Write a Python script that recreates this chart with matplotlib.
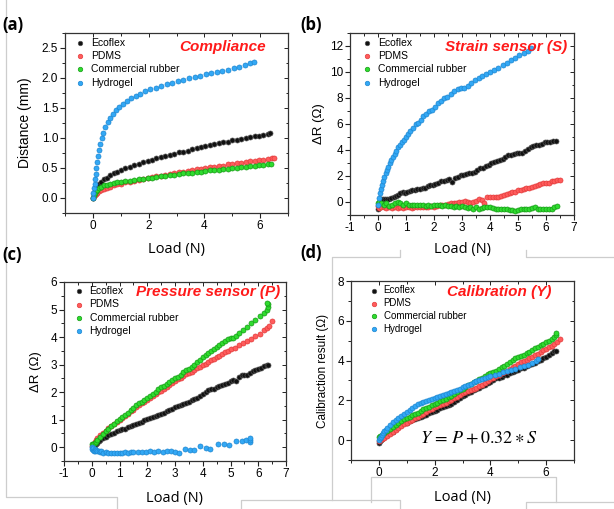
import matplotlib
matplotlib.use("Agg")
import matplotlib.pyplot as plt
from matplotlib.lines import Line2D
from matplotlib.ticker import AutoMinorLocator, MultipleLocator, FormatStrFormatter


# ---------------------------------------------------------------------------
# (a) compliance: distance (mm) vs load (N)

comp_eco_x = [0, 0.03, 0.06, 0.10, 0.15, 0.22, 0.30, 0.40, 0.50, 0.62, 0.75, 0.88, 1.02, 1.17,
              1.32, 1.48, 1.64, 1.80, 1.96, 2.12, 2.28, 2.44, 2.60, 2.76, 2.92, 3.08, 3.24, 3.40,
              3.56, 3.72, 3.88, 4.04, 4.20, 4.36, 4.52, 4.68, 4.84, 5.00, 5.16, 5.32, 5.48, 5.64,
              5.80, 5.96, 6.12, 6.28, 6.35]
comp_eco_y = [0.00, 0.07, 0.11, 0.15, 0.19, 0.23, 0.27, 0.31, 0.34, 0.38, 0.41, 0.44, 0.47, 0.50,
              0.52, 0.55, 0.57, 0.60, 0.62, 0.64, 0.66, 0.68, 0.70, 0.72, 0.74, 0.76, 0.77, 0.79,
              0.81, 0.83, 0.85, 0.87, 0.88, 0.90, 0.91, 0.93, 0.94, 0.96, 0.97, 0.99, 1.00, 1.01,
              1.03, 1.04, 1.05, 1.07, 1.08]

comp_pdms_x = [0, 0.03, 0.06, 0.10, 0.15, 0.22, 0.30, 0.40, 0.50, 0.62, 0.75, 0.88, 1.02, 1.17,
               1.32, 1.48, 1.64, 1.80, 1.96, 2.12, 2.28, 2.44, 2.60, 2.76, 2.92, 3.08, 3.24, 3.40,
               3.56, 3.72, 3.88, 4.04, 4.20, 4.36, 4.52, 4.68, 4.84, 5.00, 5.16, 5.32, 5.48, 5.64,
               5.80, 5.96, 6.12, 6.28, 6.44, 6.50]
comp_pdms_y = [0.00, 0.03, 0.05, 0.07, 0.09, 0.11, 0.13, 0.15, 0.17, 0.19, 0.21, 0.23, 0.24, 0.26,
               0.27, 0.29, 0.30, 0.32, 0.33, 0.35, 0.36, 0.37, 0.39, 0.40, 0.41, 0.43, 0.44, 0.45,
               0.47, 0.48, 0.49, 0.50, 0.51, 0.52, 0.53, 0.54, 0.56, 0.57, 0.58, 0.59, 0.60, 0.61,
               0.62, 0.63, 0.64, 0.65, 0.66, 0.67]

comp_rub_x = [0, 0.03, 0.06, 0.10, 0.15, 0.22, 0.30, 0.40, 0.50, 0.62, 0.75, 0.88, 1.02, 1.17,
              1.32, 1.48, 1.64, 1.80, 1.96, 2.12, 2.28, 2.44, 2.60, 2.76, 2.92, 3.08, 3.24, 3.40,
              3.56, 3.72, 3.88, 4.04, 4.20, 4.36, 4.52, 4.68, 4.84, 5.00, 5.16, 5.32, 5.48, 5.64,
              5.80, 5.96, 6.12, 6.28, 6.40]
comp_rub_y = [0.00, 0.05, 0.08, 0.11, 0.14, 0.17, 0.19, 0.21, 0.22, 0.23, 0.25, 0.26, 0.27, 0.28,
              0.29, 0.30, 0.31, 0.32, 0.33, 0.34, 0.35, 0.36, 0.37, 0.38, 0.39, 0.40, 0.41, 0.42,
              0.42, 0.43, 0.44, 0.45, 0.46, 0.46, 0.47, 0.48, 0.49, 0.50, 0.50, 0.51, 0.52, 0.53,
              0.54, 0.55, 0.55, 0.56, 0.56]

comp_gel_x = [0.00, 0.02, 0.04, 0.06, 0.08, 0.10, 0.13, 0.16, 0.19, 0.23, 0.27, 0.32, 0.38, 0.45,
              0.53, 0.62, 0.72, 0.83, 0.95, 1.08, 1.22, 1.37, 1.53, 1.70, 1.88, 2.06, 2.25, 2.45,
              2.65, 2.85, 3.05, 3.25, 3.45, 3.65, 3.85, 4.05, 4.25, 4.45, 4.65, 4.85, 5.05, 5.25,
              5.45, 5.65, 5.77]
comp_gel_y = [0.00, 0.08, 0.16, 0.24, 0.32, 0.40, 0.50, 0.60, 0.70, 0.80, 0.90, 1.00, 1.09, 1.18,
              1.26, 1.33, 1.40, 1.46, 1.52, 1.57, 1.62, 1.66, 1.70, 1.74, 1.78, 1.81, 1.84, 1.87,
              1.90, 1.92, 1.95, 1.97, 2.00, 2.02, 2.04, 2.06, 2.08, 2.10, 2.12, 2.14, 2.16, 2.19,
              2.22, 2.25, 2.27]

# ---------------------------------------------------------------------------
# (b) strain sensor: dR (ohm) vs load (N)

strain_eco_x = [0.00, 0.03, 0.07, 0.12, 0.18, 0.25, 0.32, 0.40, 0.48, 0.56, 0.64, 0.72, 0.80, 0.88,
                0.96, 1.05, 1.14, 1.23, 1.32, 1.41, 1.50, 1.59, 1.68, 1.77, 1.86, 1.95, 2.05, 2.15,
                2.25, 2.35, 2.45, 2.55, 2.65, 2.75, 2.85, 2.95, 3.05, 3.15, 3.25, 3.35, 3.45, 3.55,
                3.65, 3.75, 3.85, 3.95, 4.05, 4.15, 4.25, 4.35, 4.45, 4.55, 4.65, 4.75, 4.85, 4.95,
                5.05, 5.15, 5.25, 5.35, 5.45, 5.55, 5.65, 5.75, 5.85, 5.95, 6.05, 6.15, 6.25, 6.35]
strain_eco_y = [-0.55, -0.10, 0.10, 0.20, 0.20, 0.25, 0.20, 0.25, 0.30, 0.40, 0.50, 0.55, 0.70, 0.75,
                0.70, 0.80, 0.85, 0.90, 0.90, 1.00, 1.00, 1.05, 1.10, 1.20, 1.30, 1.30, 1.35, 1.50,
                1.60, 1.65, 1.70, 1.80, 1.55, 1.85, 1.90, 2.10, 2.05, 2.15, 2.20, 2.20, 2.30, 2.45,
                2.60, 2.65, 2.75, 2.85, 3.00, 3.05, 3.15, 3.20, 3.30, 3.45, 3.60, 3.65, 3.70, 3.75,
                3.75, 3.80, 3.90, 4.10, 4.20, 4.30, 4.35, 4.40, 4.50, 4.60, 4.65, 4.65, 4.70, 4.70]

strain_pdms_x = [0.00, 0.05, 0.12, 0.20, 0.30, 0.40, 0.50, 0.60, 0.70, 0.80, 0.90, 1.00, 1.10, 1.20,
                 1.30, 1.40, 1.50, 1.60, 1.70, 1.80, 1.90, 2.00, 2.10, 2.20, 2.30, 2.40, 2.50, 2.60,
                 2.70, 2.80, 2.90, 3.00, 3.10, 3.20, 3.30, 3.40, 3.50, 3.60, 3.70, 3.80, 3.90, 4.00,
                 4.10, 4.20, 4.30, 4.40, 4.50, 4.60, 4.70, 4.80, 4.90, 5.00, 5.10, 5.20, 5.30, 5.40,
                 5.50, 5.60, 5.70, 5.80, 5.90, 6.00, 6.10, 6.20, 6.30, 6.40, 6.50]
strain_pdms_y = [-0.30, -0.45, -0.40, -0.40, -0.45, -0.40, -0.45, -0.40, -0.45, -0.40, -0.45, -0.40,
                 -0.40, -0.45, -0.40, -0.40, -0.35, -0.40, -0.40, -0.35, -0.30, -0.35, -0.30, -0.25,
                 -0.20, -0.20, -0.15, -0.10, -0.10, -0.05, 0.00, 0.00, 0.05, 0.00, -0.10, 0.00,
                 0.05, 0.20, 0.15, -0.05, 0.35, 0.40, 0.40, 0.35, 0.40, 0.50, 0.55, 0.60, 0.70,
                 0.75, 0.80, 0.90, 0.95, 1.00, 1.05, 1.10, 1.15, 1.20, 1.30, 1.40, 1.45, 1.50,
                 1.50, 1.60, 1.65, 1.70, 1.70]

strain_rub_x = [0.00, 0.05, 0.10, 0.20, 0.30, 0.40, 0.50, 0.60, 0.70, 0.80, 0.90, 1.00, 1.10, 1.20,
                1.30, 1.40, 1.50, 1.60, 1.70, 1.80, 1.90, 2.00, 2.10, 2.20, 2.30, 2.40, 2.50, 2.60,
                2.70, 2.80, 2.90, 3.00, 3.10, 3.20, 3.30, 3.40, 3.50, 3.60, 3.70, 3.80, 3.90, 4.00,
                4.10, 4.20, 4.30, 4.40, 4.50, 4.60, 4.70, 4.80, 4.90, 5.00, 5.10, 5.20, 5.30, 5.40,
                5.50, 5.60, 5.70, 5.80, 5.90, 6.00, 6.10, 6.20, 6.30, 6.40]
strain_rub_y = [-0.10, 0.00, -0.10, -0.20, -0.10, -0.30, -0.20, -0.10, 0.00, -0.10, -0.20, -0.10,
                -0.20, -0.20, -0.20, -0.20, -0.20, -0.25, -0.30, -0.20, -0.30, -0.20, -0.25, -0.20,
                -0.30, -0.20, -0.30, -0.30, -0.35, -0.30, -0.40, -0.30, -0.35, -0.45, -0.40, -0.50,
                -0.40, -0.50, -0.45, -0.40, -0.35, -0.40, -0.45, -0.50, -0.50, -0.55, -0.55, -0.55,
                -0.60, -0.65, -0.70, -0.60, -0.55, -0.55, -0.55, -0.50, -0.45, -0.35, -0.50, -0.55,
                -0.55, -0.55, -0.55, -0.50, -0.35, -0.30]

strain_gel_x = [0.00, 0.03, 0.06, 0.10, 0.14, 0.18, 0.22, 0.27, 0.32, 0.37, 0.42, 0.48, 0.54, 0.60,
                0.66, 0.72, 0.78, 0.85, 0.92, 1.00, 1.08, 1.16, 1.25, 1.34, 1.43, 1.52, 1.62, 1.72,
                1.82, 1.92, 2.03, 2.14, 2.25, 2.36, 2.48, 2.60, 2.72, 2.84, 2.96, 3.08, 3.20, 3.33,
                3.46, 3.59, 3.72, 3.86, 4.00, 4.15, 4.30, 4.45, 4.60, 4.75, 4.90, 5.05, 5.20, 5.35,
                5.45]
strain_gel_y = [-0.20, 0.30, 0.70, 1.00, 1.30, 1.60, 1.90, 2.20, 2.50, 2.70, 3.00, 3.20, 3.50, 3.70,
                3.90, 4.20, 4.40, 4.60, 4.80, 5.00, 5.20, 5.50, 5.70, 6.00, 6.10, 6.30, 6.60, 6.80,
                7.00, 7.10, 7.30, 7.60, 7.80, 8.00, 8.10, 8.30, 8.50, 8.70, 8.75, 8.80, 8.95, 9.15,
                9.35, 9.50, 9.70, 9.85, 10.00, 10.15, 10.30, 10.50, 10.70, 10.90, 11.05, 11.30,
                11.45, 11.65, 11.85]

# ---------------------------------------------------------------------------
# (c) pressure sensor: dR (ohm) vs load (N)

press_eco_x = [0.05, 0.10, 0.15, 0.20, 0.25, 0.30, 0.40, 0.50, 0.60, 0.70, 0.80, 0.90, 1.00, 1.10,
               1.20, 1.30, 1.40, 1.50, 1.60, 1.70, 1.80, 1.90, 2.00, 2.10, 2.20, 2.30, 2.40, 2.50,
               2.60, 2.70, 2.80, 2.90, 3.00, 3.10, 3.20, 3.30, 3.40, 3.50, 3.60, 3.70, 3.80, 3.90,
               4.00, 4.10, 4.20, 4.30, 4.40, 4.50, 4.60, 4.70, 4.80, 4.90, 5.00, 5.10, 5.20, 5.30,
               5.40, 5.50, 5.60, 5.70, 5.80, 5.90, 6.00, 6.10, 6.20, 6.30, 6.36]
press_eco_y = [0.02, 0.08, 0.12, 0.17, 0.22, 0.26, 0.32, 0.38, 0.44, 0.48, 0.53, 0.58, 0.62, 0.66,
               0.68, 0.72, 0.76, 0.79, 0.84, 0.88, 0.92, 0.98, 1.02, 1.05, 1.08, 1.12, 1.16, 1.20,
               1.24, 1.30, 1.35, 1.40, 1.46, 1.50, 1.53, 1.57, 1.61, 1.65, 1.70, 1.75, 1.80, 1.86,
               1.92, 2.00, 2.08, 2.10, 2.12, 2.18, 2.22, 2.25, 2.30, 2.35, 2.42, 2.45, 2.42, 2.55,
               2.62, 2.62, 2.62, 2.70, 2.78, 2.80, 2.84, 2.88, 2.94, 2.98, 2.98]

press_pdms_x = [0.00, 0.05, 0.10, 0.15, 0.20, 0.30, 0.40, 0.50, 0.60, 0.70, 0.80, 0.90, 1.00, 1.10,
                1.20, 1.30, 1.40, 1.50, 1.60, 1.70, 1.80, 1.90, 2.00, 2.10, 2.20, 2.30, 2.40, 2.50,
                2.60, 2.70, 2.80, 2.90, 3.00, 3.10, 3.20, 3.30, 3.40, 3.50, 3.60, 3.70, 3.80, 3.90,
                4.00, 4.10, 4.20, 4.30, 4.40, 4.50, 4.60, 4.70, 4.80, 4.90, 5.00, 5.15, 5.30, 5.45,
                5.60, 5.75, 5.90, 6.05, 6.20, 6.30, 6.40, 6.50]
press_pdms_y = [0.05, 0.12, 0.20, 0.27, 0.33, 0.43, 0.52, 0.60, 0.69, 0.77, 0.85, 0.92, 1.00, 1.07,
                1.15, 1.22, 1.30, 1.37, 1.45, 1.52, 1.60, 1.66, 1.73, 1.80, 1.87, 1.94, 2.00, 2.06,
                2.12, 2.20, 2.27, 2.34, 2.40, 2.46, 2.52, 2.58, 2.65, 2.70, 2.75, 2.82, 2.88, 2.93,
                2.98, 3.03, 3.10, 3.16, 3.20, 3.27, 3.33, 3.40, 3.45, 3.50, 3.55, 3.62, 3.70, 3.78,
                3.86, 3.94, 4.03, 4.12, 4.25, 4.33, 4.42, 4.58]

press_rub_x = [0.00, 0.05, 0.10, 0.15, 0.20, 0.30, 0.40, 0.50, 0.60, 0.70, 0.80, 0.90, 1.00, 1.10,
               1.20, 1.30, 1.40, 1.50, 1.60, 1.70, 1.80, 1.90, 2.00, 2.10, 2.20, 2.30, 2.40, 2.50,
               2.60, 2.70, 2.80, 2.90, 3.00, 3.10, 3.20, 3.30, 3.40, 3.50, 3.60, 3.70, 3.80, 3.90,
               4.00, 4.10, 4.20, 4.30, 4.40, 4.50, 4.60, 4.70, 4.80, 4.90, 5.00, 5.10, 5.20, 5.30,
               5.45, 5.60, 5.75, 5.90, 6.05, 6.20, 6.30, 6.35, 6.35, 6.32]
press_rub_y = [0.10, 0.12, 0.15, 0.20, 0.28, 0.38, 0.48, 0.58, 0.68, 0.76, 0.86, 0.95, 1.03, 1.10,
               1.18, 1.26, 1.35, 1.43, 1.52, 1.60, 1.66, 1.73, 1.80, 1.87, 1.94, 2.02, 2.10, 2.17,
               2.23, 2.30, 2.37, 2.45, 2.52, 2.55, 2.62, 2.72, 2.80, 2.85, 2.92, 3.00, 3.10, 3.18,
               3.28, 3.35, 3.43, 3.50, 3.57, 3.63, 3.70, 3.77, 3.85, 3.93, 3.98, 3.95, 4.05, 4.15,
               4.25, 4.38, 4.50, 4.62, 4.75, 4.88, 5.00, 5.10, 5.20, 5.25]

press_gel_x = [0.00, 0.02, 0.04, 0.06, 0.08, 0.10, 0.13, 0.16, 0.20, 0.25, 0.30, 0.35, 0.40, 0.50,
               0.60, 0.70, 0.80, 0.90, 1.00, 1.10, 1.20, 1.30, 1.40, 1.50, 1.65, 1.80, 1.95, 2.10,
               2.25, 2.40, 2.55, 2.70, 2.85, 3.00, 3.15, 3.35, 3.55, 3.70, 3.90, 4.10, 4.25, 4.55,
               4.75, 4.95, 5.20, 5.40, 5.55, 5.70, 5.72, 5.72]
press_gel_y = [0.00, -0.05, -0.10, -0.02, -0.12, -0.08, -0.15, -0.10, -0.15, -0.12, -0.18, -0.15,
               -0.20, -0.18, -0.22, -0.20, -0.22, -0.20, -0.20, -0.22, -0.18, -0.20, -0.18, -0.16,
               -0.18, -0.16, -0.18, -0.15, -0.17, -0.15, -0.16, -0.12, -0.15, -0.18, -0.21, -0.07,
               -0.09, -0.10, 0.03, -0.04, -0.06, 0.12, 0.10, 0.09, 0.24, 0.24, 0.27, 0.20, 0.28,
               0.35]

# ---------------------------------------------------------------------------
# (d) calibration: Y = P + 0.32 * S

cal_eco_x = [0.00, 0.03, 0.06, 0.10, 0.15, 0.20, 0.25, 0.30, 0.40, 0.50, 0.60, 0.70, 0.80, 0.90,
             1.00, 1.10, 1.20, 1.30, 1.40, 1.50, 1.60, 1.70, 1.80, 1.90, 2.00, 2.10, 2.20, 2.30,
             2.40, 2.50, 2.60, 2.70, 2.80, 2.90, 3.00, 3.10, 3.20, 3.30, 3.40, 3.50, 3.60, 3.70,
             3.80, 3.90, 4.00, 4.10, 4.20, 4.30, 4.40, 4.50, 4.60, 4.70, 4.80, 4.90, 5.00, 5.10,
             5.20, 5.30, 5.40, 5.50, 5.60, 5.70, 5.80, 5.90, 6.00, 6.10, 6.20, 6.30, 6.35]
cal_eco_y = [-0.13, -0.05, 0.02, 0.08, 0.13, 0.18, 0.22, 0.27, 0.35, 0.43, 0.55, 0.65, 0.78, 0.84,
             0.87, 0.95, 1.00, 1.05, 1.10, 1.15, 1.22, 1.28, 1.38, 1.42, 1.45, 1.52, 1.60, 1.65,
             1.70, 1.78, 1.80, 1.90, 2.00, 2.10, 2.20, 2.27, 2.35, 2.42, 2.50, 2.55, 2.62, 2.70,
             2.78, 2.86, 2.92, 3.00, 3.10, 3.12, 3.18, 3.25, 3.28, 3.35, 3.42, 3.50, 3.55, 3.62,
             3.65, 3.72, 3.80, 3.85, 3.90, 3.97, 4.05, 4.15, 4.20, 4.30, 4.40, 4.47, 4.49]

cal_pdms_x = [0.00, 0.05, 0.10, 0.20, 0.30, 0.40, 0.50, 0.60, 0.70, 0.80, 0.90, 1.00, 1.10, 1.20,
              1.30, 1.40, 1.50, 1.60, 1.70, 1.80, 1.90, 2.00, 2.10, 2.20, 2.30, 2.40, 2.50, 2.60,
              2.70, 2.80, 2.90, 3.00, 3.10, 3.20, 3.30, 3.40, 3.50, 3.60, 3.70, 3.80, 3.90, 4.00,
              4.10, 4.20, 4.30, 4.40, 4.50, 4.60, 4.70, 4.80, 4.90, 5.00, 5.10, 5.20, 5.30, 5.40,
              5.50, 5.60, 5.70, 5.80, 5.90, 6.00, 6.10, 6.20, 6.30, 6.40, 6.50]
cal_pdms_y = [-0.05, 0.00, 0.05, 0.12, 0.22, 0.32, 0.42, 0.52, 0.62, 0.72, 0.80, 0.88, 0.96, 1.03,
              1.10, 1.17, 1.24, 1.32, 1.40, 1.50, 1.58, 1.65, 1.72, 1.78, 1.82, 1.88, 1.95, 2.02,
              2.10, 2.18, 2.28, 2.35, 2.42, 2.48, 2.52, 2.58, 2.62, 2.70, 2.78, 2.85, 2.95, 3.05,
              3.12, 3.20, 3.28, 3.35, 3.42, 3.50, 3.58, 3.66, 3.75, 3.85, 3.92, 3.98, 4.05, 4.12,
              4.20, 4.28, 4.35, 4.45, 4.52, 4.60, 4.68, 4.75, 4.85, 4.95, 5.08]

cal_rub_x = [0.00, 0.05, 0.10, 0.20, 0.30, 0.40, 0.50, 0.60, 0.70, 0.80, 0.90, 1.00, 1.10, 1.20,
             1.30, 1.40, 1.50, 1.60, 1.70, 1.80, 1.90, 2.00, 2.10, 2.20, 2.30, 2.40, 2.50, 2.60,
             2.70, 2.80, 2.90, 3.00, 3.10, 3.20, 3.30, 3.40, 3.50, 3.60, 3.70, 3.80, 3.90, 4.00,
             4.10, 4.20, 4.30, 4.40, 4.50, 4.60, 4.70, 4.80, 4.90, 5.00, 5.10, 5.20, 5.30, 5.40,
             5.50, 5.60, 5.70, 5.80, 5.90, 6.00, 6.10, 6.20, 6.30, 6.35, 6.35]
cal_rub_y = [0.15, 0.20, 0.25, 0.35, 0.45, 0.55, 0.65, 0.75, 0.85, 0.95, 1.05, 1.12, 1.18, 1.25,
             1.32, 1.38, 1.45, 1.55, 1.62, 1.68, 1.75, 1.82, 1.88, 1.95, 2.02, 2.08, 2.15, 2.22,
             2.32, 2.42, 2.50, 2.58, 2.65, 2.75, 2.82, 2.90, 2.98, 3.05, 3.12, 3.22, 3.30, 3.35,
             3.42, 3.50, 3.60, 3.68, 3.75, 3.85, 3.95, 4.05, 4.12, 4.18, 4.22, 4.30, 4.38, 4.45,
             4.55, 4.62, 4.70, 4.78, 4.85, 4.92, 5.00, 5.08, 5.18, 5.30, 5.38]

cal_gel_x = [0.00, 0.03, 0.06, 0.10, 0.15, 0.20, 0.25, 0.30, 0.40, 0.50, 0.60, 0.70, 0.80, 0.90,
             1.00, 1.10, 1.20, 1.30, 1.40, 1.50, 1.60, 1.70, 1.80, 1.90, 2.00, 2.10, 2.20, 2.30,
             2.40, 2.50, 2.60, 2.70, 2.80, 2.90, 3.00, 3.10, 3.20, 3.30, 3.40, 3.50, 3.60, 3.70,
             3.80, 3.90, 4.00, 4.15, 4.30, 4.45, 4.60, 4.75, 4.90, 5.05, 5.20, 5.35, 5.50, 5.65,
             5.70]
cal_gel_y = [0.00, 0.10, 0.18, 0.28, 0.38, 0.46, 0.52, 0.60, 0.76, 0.90, 1.02, 1.12, 1.22, 1.32,
             1.42, 1.52, 1.62, 1.72, 1.80, 1.86, 1.92, 1.96, 2.00, 2.05, 2.10, 2.15, 2.20, 2.26,
             2.32, 2.36, 2.42, 2.46, 2.52, 2.58, 2.65, 2.70, 2.75, 2.82, 2.90, 2.96, 3.04, 3.08,
             3.12, 3.18, 3.22, 3.28, 3.34, 3.42, 3.46, 3.52, 3.60, 3.66, 3.74, 3.80, 3.88, 3.98,
             4.08]

materials = ['Ecoflex', 'PDMS', 'Commercial rubber', 'Hydrogel']
face_colors = ['#111111', '#ff5c5c', '#2fdc2f', '#33a8f5']
edge_colors = ['#505050', '#e23a3a', '#159a15', '#1d86d0']


W, H = 614, 509
plt.rcParams['font.family'] = ['Liberation Sans', 'DejaVu Sans']
plt.rcParams['axes.unicode_minus'] = False
fig = plt.figure(figsize=(W / 100, H / 100), dpi=100)


def px_axes(left, top, right, bottom):
    return fig.add_axes([left / W, 1 - bottom / H, (right - left) / W, (bottom - top) / H])


def gray_line(xs, ys):
    fig.add_artist(Line2D([x / W for x in xs], [1 - y / H for y in ys],
                          transform=fig.transFigure, color='#cdcdcd', lw=0.9))


def style_axes(ax, xmaj, ymaj):
    ax.xaxis.set_major_locator(MultipleLocator(xmaj))
    ax.yaxis.set_major_locator(MultipleLocator(ymaj))
    ax.xaxis.set_minor_locator(AutoMinorLocator(2))
    ax.yaxis.set_minor_locator(AutoMinorLocator(2))
    ax.tick_params(which='major', direction='out', length=3.5, width=0.8, labelsize=8.5,
                   pad=1.5, color='#222222')
    ax.tick_params(which='minor', direction='out', length=2, width=0.7, color='#222222')
    for s in ax.spines.values():
        s.set_linewidth(0.9)
        s.set_color('#333333')
    # mirrored inward ticks on the top and right edges
    top = ax.secondary_xaxis('top')
    top.xaxis.set_major_locator(MultipleLocator(xmaj))
    top.xaxis.set_minor_locator(AutoMinorLocator(2))
    top.tick_params(which='both', direction='in', labeltop=False, width=0.7, color='#222222')
    top.tick_params(which='major', length=3)
    top.tick_params(which='minor', length=1.8)
    right = ax.secondary_yaxis('right')
    right.yaxis.set_major_locator(MultipleLocator(ymaj))
    right.yaxis.set_minor_locator(AutoMinorLocator(2))
    right.tick_params(which='both', direction='in', labelright=False, width=0.7, color='#222222')
    right.tick_params(which='major', length=3)
    right.tick_params(which='minor', length=1.8)
    for s in list(top.spines.values()) + list(right.spines.values()):
        s.set_visible(False)


def draw_series(ax, series, size=13):
    handles = []
    for (x, y), fc, ec, name in zip(series, face_colors, edge_colors, materials):
        h = ax.scatter(x, y, s=size, c=fc, edgecolors=ec, linewidths=0.5, label=name, zorder=3)
        handles.append(h)
    return handles


def add_legend(ax, handles, bx, by, fs=7.5, spacing=0.32):
    ax.legend(handles=handles, loc='upper left', bbox_to_anchor=(bx, by), frameon=False,
              fontsize=fs, handletextpad=0.5, labelspacing=spacing, borderpad=0,
              borderaxespad=0, handlelength=1.0, scatterpoints=1, markerscale=0.9)


def add_title(ax, text, x, y, size=11):
    ax.text(x, y, text, transform=ax.transAxes, ha='right', va='center', color='#ff1a1a',
            fontsize=size, fontweight='bold', fontstyle='italic')


def add_xlabel(ax, y):
    ax.set_xlabel('Load (N)', fontsize=10.5, family=['Open Sans', 'DejaVu Sans'])
    ax.xaxis.set_label_coords(0.5, y)


# light frame lines of the composed figure
gray_line([6, 6, 117, 117], [0, 497, 497, 509])
gray_line([241, 241, 400, 400], [509, 500, 500, 509])
gray_line([332, 332, 400, 400], [500, 257, 257, 250])
gray_line([526, 526, 614], [250, 257, 257])
gray_line([371, 371, 556, 556], [502, 477, 477, 502])
gray_line([526, 526, 614], [509, 502, 502])

# ---- (a)
ax = px_axes(65, 33, 288, 213)
hs = draw_series(ax, [(comp_eco_x, comp_eco_y), (comp_pdms_x, comp_pdms_y),
                      (comp_rub_x, comp_rub_y), (comp_gel_x, comp_gel_y)])
ax.set_xlim(-1, 7)
ax.set_ylim(-0.25, 2.75)
style_axes(ax, 2, 0.5)
ax.yaxis.set_major_formatter(FormatStrFormatter('%.1f'))
ax.set_ylabel('Distance (mm)', fontsize=10)
ax.yaxis.set_label_coords(-0.15, 0.5)
add_xlabel(ax, -0.16)
add_legend(ax, hs, 0.045, 0.975)
add_title(ax, 'Compliance', 0.9, 0.922)

# ---- (b)
ax = px_axes(350, 33, 574, 215)
hs = draw_series(ax, [(strain_eco_x, strain_eco_y), (strain_pdms_x, strain_pdms_y),
                      (strain_rub_x, strain_rub_y), (strain_gel_x, strain_gel_y)])
ax.set_xlim(-1, 7)
ax.set_ylim(-1, 13)
style_axes(ax, 1, 2)
ax.set_ylabel('ΔR (Ω)', fontsize=9.5)
ax.yaxis.set_label_coords(-0.11, 0.5)
add_xlabel(ax, -0.15)
add_legend(ax, hs, 0.054, 0.975)
add_title(ax, 'Strain sensor (S)', 0.97, 0.923)

# ---- (c)
ax = px_axes(64, 282, 286, 461)
hs = draw_series(ax, [(press_eco_x, press_eco_y), (press_pdms_x, press_pdms_y),
                      (press_rub_x, press_rub_y), (press_gel_x, press_gel_y)])
ax.set_xlim(-1, 7)
ax.set_ylim(-0.5, 6)
style_axes(ax, 1, 1)
ax.set_ylabel('ΔR (Ω)', fontsize=9.5)
ax.yaxis.set_label_coords(-0.1, 0.5)
add_xlabel(ax, -0.165)
add_legend(ax, hs, 0.045, 0.978)
add_title(ax, 'Pressure sensor (P)', 0.975, 0.944)

# ---- (d)
ax = px_axes(351, 281, 574, 460)
hs = draw_series(ax, [(cal_eco_x, cal_eco_y), (cal_pdms_x, cal_pdms_y),
                      (cal_rub_x, cal_rub_y), (cal_gel_x, cal_gel_y)])
ax.set_xlim(-1, 7)
ax.set_ylim(-1, 8)
style_axes(ax, 2, 2)
ax.set_ylabel('Calibraction result (Ω)', fontsize=8.5)
ax.yaxis.set_label_coords(-0.1, 0.5)
add_xlabel(ax, -0.17)
add_legend(ax, hs, 0.081, 0.975, fs=7, spacing=0.28)
add_title(ax, 'Calibration (Y)', 0.9, 0.94)
ax.text(0.574, 0.117, r'$Y\, =\, P + 0.32 \ast S$', transform=ax.transAxes, ha='center',
        va='center', fontsize=13, math_fontfamily='stix')

# panel letters
for label, x, y in [('(a)', 2, 25), ('(b)', 300, 25), ('(c)', 2, 255), ('(d)', 300, 253)]:
    fig.text(x / W, 1 - y / H, label, ha='left', va='center', fontsize=12, fontweight='bold',
             family=['Open Sans', 'DejaVu Sans'])

fig.savefig('out.png', dpi=100)
